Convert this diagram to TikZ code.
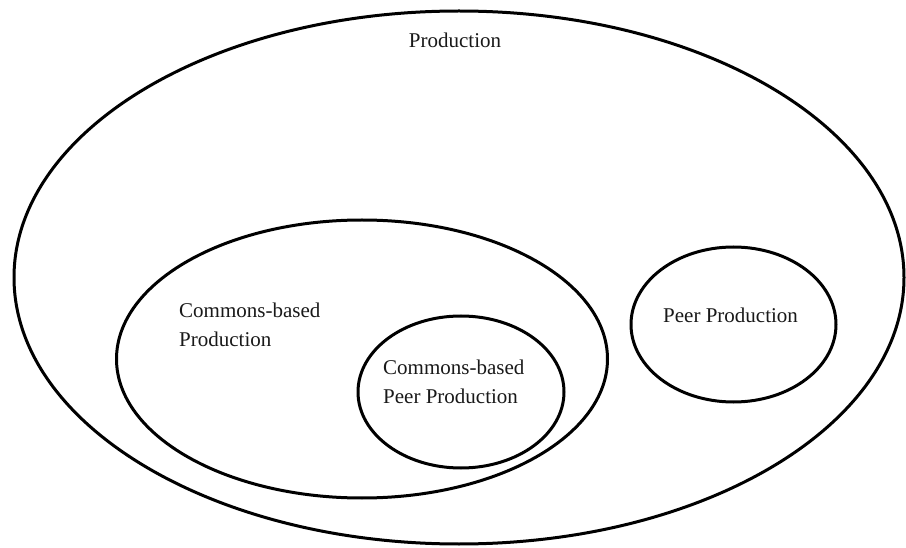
\documentclass[tikz,border=0pt]{standalone}
\usepackage{fontspec}
\setmainfont{Liberation Serif}
\usetikzlibrary{shapes.geometric}
\begin{document}
\begin{tikzpicture}[x=1pt,y=-1pt,
  setshape/.style={draw=black, line width=3pt, ellipse, inner sep=0pt, outer sep=0pt},
  lbl/.style={anchor=base west, inner sep=0pt, font=\fontsize{21}{29}\selectfont, text=black!90, align=left}]
\useasboundingbox (0,0) rectangle (906,548);
\node[setshape, minimum width=890pt, minimum height=533pt] (prod) at (459,277.5) {};
\node[setshape, minimum width=491pt, minimum height=278pt] (cbp) at (362,359) {};
\node[setshape, minimum width=206pt, minimum height=152pt] (cbpp) at (461,392) {};
\node[setshape, minimum width=205pt, minimum height=155pt] (pp) at (733.5,324.5) {};
\node[lbl, anchor=base] (tprod) at (455,48) {Production};
\node[lbl] (tcbp) at (179,347) {Commons-based\\Production};
\node[lbl] (tcbpp) at (383,403) {Commons-based\\Peer Production};
\node[lbl] (tpp) at (663,323) {Peer Production};
\end{tikzpicture}
\end{document}
